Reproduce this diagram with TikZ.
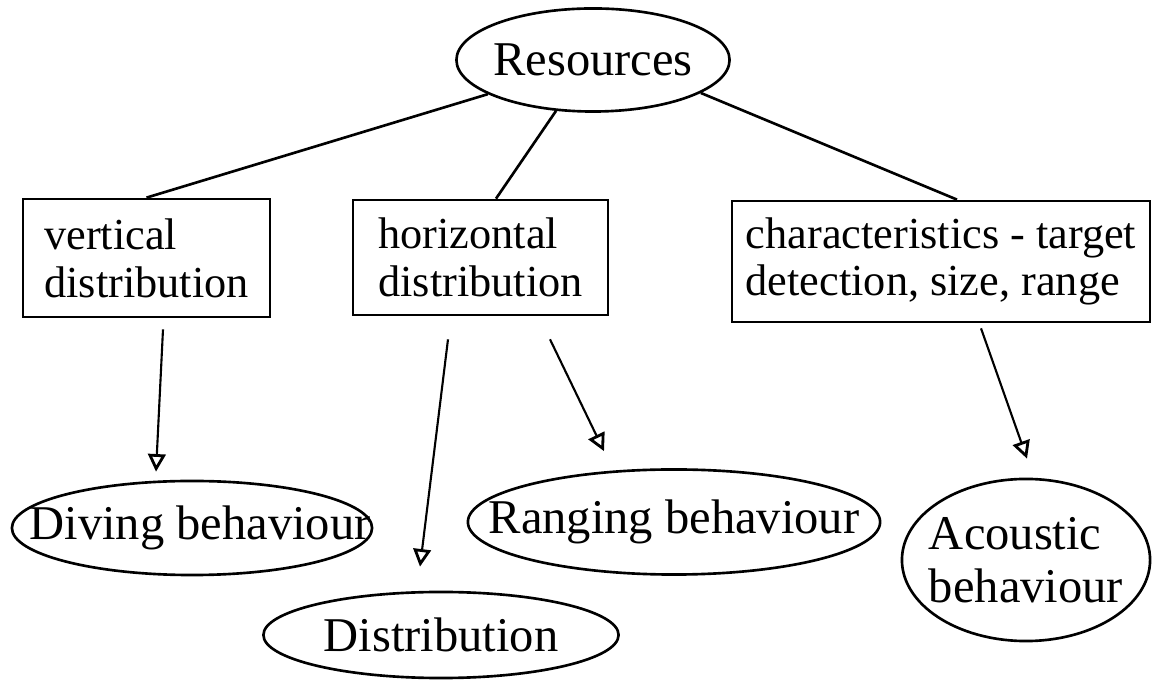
\documentclass[tikz,border=0pt]{standalone}
\usepackage{fontspec}
\setmainfont{Liberation Serif}
\usetikzlibrary{shapes.geometric,arrows.meta,calc}

\begin{document}
\begin{tikzpicture}[x=0.01cm,y=-0.01cm,line width=0.75pt,
    oval/.style={ellipse,draw,inner sep=0pt},
    ovtext/.style={font=\fontsize{13.8}{15.1}\selectfont,align=left},
    box/.style={rectangle,draw,inner sep=0pt,font=\fontsize{12.6}{13.6}\selectfont,align=left},
    arr/.style={line width=0.6pt,-{Triangle[open,length=5pt,width=5pt,line width=0.8pt]}}]
    \useasboundingbox (0,0) rectangle (1152,680);
    \node[oval,minimum width=2.73cm,minimum height=1.03cm,label={[ovtext]center:Resources}] (res) at (593,60) {};
    \node[box,minimum width=2.47cm,minimum height=1.18cm] (vbox) at (146.5,258) {vertical\\distribution};
    \node[box,minimum width=2.55cm,minimum height=1.15cm] (hbox) at (480.5,257.5) {horizontal\\distribution};
    \node[box,minimum width=4.18cm,minimum height=1.21cm] (cbox) at (941,261.5) {characteristics - target\\ detection, size, range};
    \node[oval,minimum width=3.6cm,minimum height=0.94cm,label={[ovtext,xshift=0.08cm]center:Diving behaviour}] (dive) at (192,528) {};
    \node[oval,minimum width=4.12cm,minimum height=1.05cm,label={[ovtext]center:Ranging behaviour}] (rang) at (674,522) {};
    \node[oval,minimum width=3.55cm,minimum height=0.86cm,label={[ovtext]center:Distribution}] (dist) at (441,635) {};
    \node[oval,minimum width=2.48cm,minimum height=1.62cm,label={[ovtext]center:Acoustic\\ behaviour}] (acou) at (1026,560) {};
    \draw (res.198) -- (vbox.north);
    \draw (res.234) -- ($(hbox.north)+(15.5,0)$);
    \draw (res.343) -- ($(cbox.north)+(16,0)$);
    \draw[arr] ($(vbox.south)+(16.5,11)$) -- ($(dive.north)+(-36,-8)$);
    \draw[arr] ($(hbox.south)+(-32.5,23)$) -- ($(dist.north)+(-21,-24)$);
    \draw[arr] ($(hbox.south)+(69.5,23)$) -- ($(rang.north)+(-70,-17)$);
    \draw[arr] ($(cbox.south)+(40,5)$) -- ($(acou.north)+(1,-19)$);
\end{tikzpicture}
\end{document}
